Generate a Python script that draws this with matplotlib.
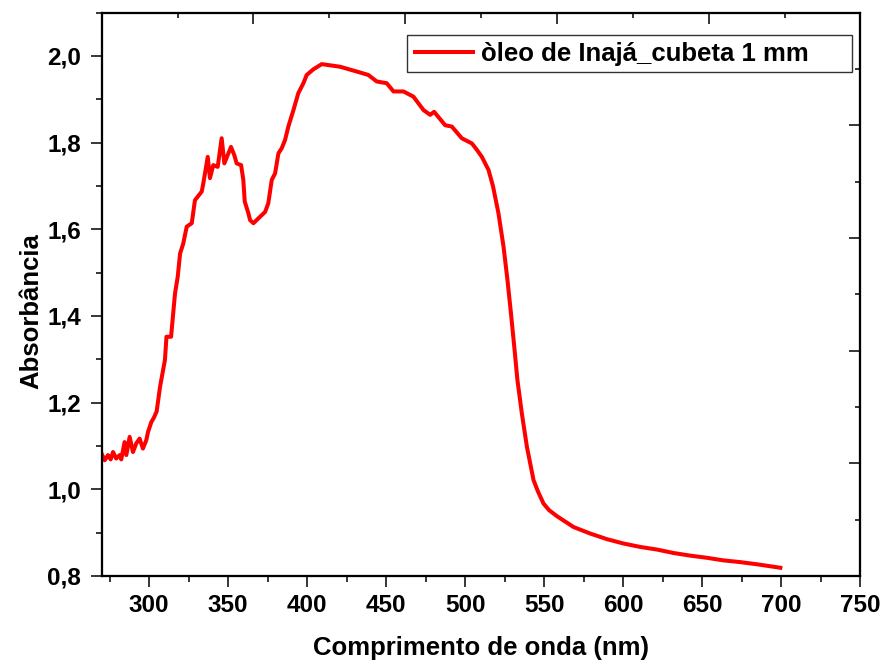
import matplotlib
matplotlib.use("Agg")
import matplotlib.pyplot as plt
from matplotlib.ticker import MultipleLocator
from matplotlib.patches import Rectangle

plt.rcParams['font.family'] = ['Liberation Sans', 'DejaVu Sans']
plt.rcParams['font.weight'] = 'bold'

wavelength = [270, 271.9, 274, 275.7, 277.2, 279.2, 281.4, 282.4, 284.5, 285.6,
              287.7, 289.8, 291.9, 294, 296.1, 298.2, 299.3, 301.4, 303, 304.8,
              306.9, 310, 311, 313.9, 316.4, 318.1, 319.6, 321.6, 323.8, 327,
              329, 333.3, 334.3, 337.1, 338.5, 340.6, 343.4, 345.9, 347.6, 349.7,
              351.8, 353.9, 355.4, 358.2, 359.6, 360.5, 362.8, 363.9, 366, 369.1,
              373.4, 375.4, 377.6, 379.7, 381.8, 383.9, 386, 388.1, 391.3, 394.4,
              397.6, 399.7, 403.9, 409.2, 420.8, 431.3, 438.7, 444, 450.3, 454.6,
              460.9, 467.2, 473.6, 477.8, 480.3, 487.3, 491.5, 497.8, 504.2, 507,
              510.5, 514.7, 517.5, 521, 524.2, 526.7, 528.9, 531, 533, 535.8,
              539, 543.2, 546, 549.5, 553, 558, 568.5, 579, 589.6, 600,
              610.7, 621.3, 631.8, 642.3, 652.9, 663.4, 674, 684.6, 699.3]
absorbance = [1.082, 1.067, 1.079, 1.069, 1.086, 1.071, 1.079, 1.069, 1.109, 1.079,
              1.121, 1.086, 1.106, 1.117, 1.094, 1.113, 1.132, 1.155, 1.165, 1.18,
              1.236, 1.298, 1.352, 1.352, 1.452, 1.49, 1.544, 1.567, 1.606, 1.614,
              1.667, 1.687, 1.706, 1.767, 1.718, 1.748, 1.744, 1.81, 1.752, 1.771,
              1.79, 1.771, 1.752, 1.748, 1.714, 1.664, 1.637, 1.621, 1.614, 1.625,
              1.64, 1.66, 1.714, 1.729, 1.775, 1.787, 1.806, 1.837, 1.875, 1.914,
              1.937, 1.956, 1.969, 1.981, 1.975, 1.964, 1.956, 1.941, 1.937, 1.918,
              1.918, 1.906, 1.875, 1.864, 1.871, 1.84, 1.837, 1.81, 1.798, 1.785,
              1.767, 1.737, 1.70, 1.637, 1.56, 1.483, 1.406, 1.329, 1.252, 1.175,
              1.098, 1.021, 0.995, 0.967, 0.952, 0.938, 0.913, 0.898, 0.885, 0.875,
              0.867, 0.861, 0.853, 0.847, 0.842, 0.836, 0.832, 0.827, 0.819]
series_label = "òleo de Inajá_cubeta 1 mm"
x_ticks = [300, 350, 400, 450, 500, 550, 600, 650, 700, 750]
y_ticks = [0.8, 1.0, 1.2, 1.4, 1.6, 1.8, 2.0]
y_ticklabels = ["0,8", "1,0", "1,2", "1,4", "1,6", "1,8", "2,0"]

fig = plt.figure(figsize=(8.81, 6.61), dpi=100)
ax = fig.add_axes([0.1154, 0.1286, 0.9767 - 0.1154, 0.981 - 0.1286])

ax.plot(wavelength, absorbance, color='#FF0000', lw=2.9, label=series_label,
        solid_joinstyle='round')
ax.set_xlim(270, 750)
ax.set_ylim(0.8, 2.1)
ax.set_xticks(x_ticks)
ax.set_yticks(y_ticks)
ax.set_yticklabels(y_ticklabels)
ax.xaxis.set_minor_locator(MultipleLocator(25))
ax.yaxis.set_minor_locator(MultipleLocator(0.1))
ax.tick_params(which='major', direction='out', length=7.7, width=1.1,
               labelsize=17.5, top=False, right=False)
ax.tick_params(which='minor', direction='out', length=4.1, width=1.1,
               top=False, right=False)
ax.tick_params(axis='y', pad=7)
ax.tick_params(axis='x', pad=5)
for s in ax.spines.values():
    s.set_linewidth(1.5)

ax.set_xlabel("Comprimento de onda (nm)", fontsize=18.5, fontweight='bold', labelpad=14)
ax.set_ylabel("Absorbância", fontsize=18.5, fontweight='bold')
ax.yaxis.set_label_coords(-0.077, 0.470)

# mirrored top / right axes with their own tick spacing
axt = ax.twiny()
axt.set_xlim(0, 10)
axt.set_xticks([0, 2, 4, 6, 8, 10])
axt.xaxis.set_minor_locator(MultipleLocator(1))
axt.tick_params(which='major', direction='in', length=7.7, width=1.1, labeltop=False)
axt.tick_params(which='minor', direction='in', length=3.5, width=1.1)
axr = ax.twinx()
axr.set_ylim(0, 10)
axr.set_yticks([0, 2, 4, 6, 8, 10])
axr.yaxis.set_minor_locator(MultipleLocator(1))
axr.tick_params(which='major', direction='in', length=7.7, width=1.1, labelright=False)
axr.tick_params(which='minor', direction='in', length=3.5, width=1.1)
for a in (axt, axr):
    for s in a.spines.values():
        s.set_linewidth(1.5)

# legend (Origin style: wide frame with extra right padding)
leg = ax.legend(loc='center left', bbox_to_anchor=(0.4128, 0.9264), borderaxespad=0,
                frameon=False, handlelength=2.26, handletextpad=0.31,
                borderpad=0, prop={'weight': 'bold', 'size': 18.5})
ax.add_patch(Rectangle((0.4023, 0.8944), 0.9886 - 0.4023, 0.960 - 0.8944,
                       transform=ax.transAxes, fill=True, facecolor='white',
                       edgecolor='#333333', linewidth=1.0, zorder=4))
leg.set_zorder(5)

fig.savefig("out.png", dpi=100)
